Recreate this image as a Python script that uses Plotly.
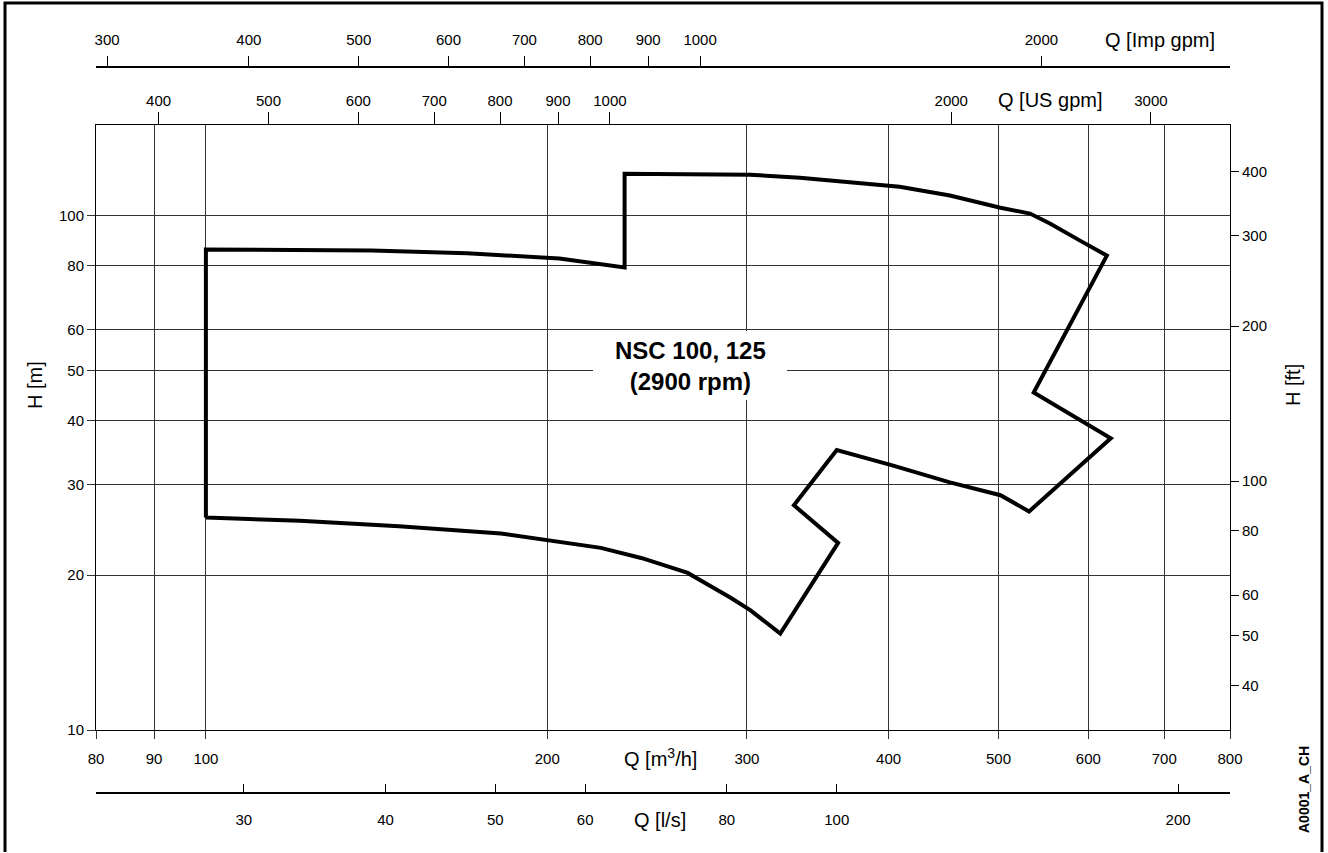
import math
import plotly.graph_objects as go

# Operating envelope of the pump range (Q in m3/h, H in m)
Q_m3h = [100, 100, 140, 170, 205, 234, 234, 278, 302, 334, 378, 409, 453, 502, 533,
         555, 590, 623, 537, 628, 532, 502, 453, 403, 360, 330, 361, 321, 302, 290,
         278, 266, 253, 242, 223, 201, 182, 148, 121, 100]
H_m = [25.9, 85.9, 85.5, 84.5, 82.5, 79.3, 120.6, 120.6, 120.1, 118.5, 115.9, 113.8,
       109.4, 103.6, 100.9, 96.5, 89.4, 83.6, 45.3, 36.9, 26.6, 28.6, 30.3, 32.7, 35.0,
       27.35, 23.1, 15.4, 17.1, 18.1, 19.1, 20.2, 20.95, 21.6, 22.6, 23.4, 24.1, 24.9,
       25.5, 25.9]

# Tick values for each scale
ticks_m3h = [80, 90, 100, 200, 300, 400, 500, 600, 700, 800]
ticks_ls = [30, 40, 50, 60, 80, 100, 200]
ticks_usgpm = [400, 500, 600, 700, 800, 900, 1000, 2000, 3000]
ticks_impgpm = [300, 400, 500, 600, 700, 800, 900, 1000, 2000]
ticks_Hm = [10, 20, 30, 40, 50, 60, 80, 100]
ticks_Hft = [40, 50, 60, 80, 100, 200, 300, 400]

# Unit conversions relative to m3/h and m
US_GPM_PER_M3H = 1000 / 3.785411784 / 60
IMP_GPM_PER_M3H = 1000 / 4.54609 / 60
LS_PER_M3H = 1 / 3.6
FT_PER_M = 1 / 0.3048

Q_MIN, Q_MAX = 80, 800
H_MIN, H_MAX = 10, 150

W, H = 1328, 853
ML, MR, MT, MB = 96, 98, 10, 10
PW, PH = W - ML - MR, H - MT - MB


def px(x):
    return (x - ML) / PW


def py(y):
    return (H - MB - y) / PH


def lrange(lo, hi, f=1.0):
    return [math.log10(lo * f), math.log10(hi * f)]


FONT = "Liberation Sans, Arial, Helvetica, sans-serif"
tickfont = dict(family=FONT, size=15, color="black")
GRID = "#333333"

fig = go.Figure()
fig.add_trace(go.Scatter(
    x=Q_m3h, y=H_m, mode="lines",
    line=dict(color="black", width=4),
    hoverinfo="skip", showlegend=False,
))

common = dict(type="log", automargin=False, tickfont=tickfont, tickmode="array",
              zeroline=False)

fig.update_layout(
    width=W, height=H, template="none",
    paper_bgcolor="white", plot_bgcolor="white",
    margin=dict(l=ML, r=MR, t=MT, b=MB),
    showlegend=False,
    xaxis=dict(
        **common, range=lrange(Q_MIN, Q_MAX), domain=[0, 1],
        tickvals=ticks_m3h, ticktext=[str(v) for v in ticks_m3h],
        showgrid=True, gridcolor=GRID, gridwidth=1,
        showline=True, linecolor="black", linewidth=1, mirror=True,
        ticks="outside", ticklen=8, tickcolor=GRID, anchor="y", side="bottom",
        ticklabelstandoff=7,
    ),
    xaxis2=dict(
        **common, range=lrange(Q_MIN, Q_MAX, US_GPM_PER_M3H),
        tickvals=ticks_usgpm, ticktext=[str(v) for v in ticks_usgpm],
        overlaying="x", anchor="y", side="top", showgrid=False, showline=False,
        ticks="outside", ticklen=12, tickcolor="black",
    ),
    xaxis3=dict(
        **common, range=lrange(Q_MIN, Q_MAX, IMP_GPM_PER_M3H),
        tickvals=ticks_impgpm, ticktext=[str(v) for v in ticks_impgpm],
        overlaying="x", anchor="free", position=py(67), side="top",
        showgrid=False, showline=True, linecolor="black", linewidth=1.5,
        ticks="outside", ticklen=10, tickcolor="black", ticklabelstandoff=5,
    ),
    xaxis4=dict(
        **common, range=lrange(Q_MIN, Q_MAX, LS_PER_M3H),
        tickvals=ticks_ls, ticktext=[str(v) for v in ticks_ls],
        overlaying="x", anchor="free", position=py(793), side="bottom",
        showgrid=False, showline=True, linecolor="black", linewidth=1.5,
        ticks="inside", ticklen=8, tickcolor="black", ticklabelstandoff=13,
    ),
    yaxis=dict(
        **common, range=lrange(H_MIN, H_MAX), domain=[py(730), py(125)],
        tickvals=ticks_Hm, ticktext=[str(v) for v in ticks_Hm],
        showgrid=True, gridcolor=GRID, gridwidth=1,
        showline=True, linecolor="black", linewidth=1, mirror=True,
        ticks="outside", ticklen=8, tickcolor=GRID, anchor="x", side="left",
    ),
    yaxis2=dict(
        **common, range=lrange(H_MIN, H_MAX, FT_PER_M),
        tickvals=ticks_Hft, ticktext=[str(v) for v in ticks_Hft],
        overlaying="y", anchor="x", side="right", showgrid=False, showline=False,
        ticks="outside", ticklen=8, tickcolor="black",
    ),
)

# empty traces so the secondary axes are rendered
for xa, ya in [("x2", "y"), ("x3", "y"), ("x4", "y"), ("x", "y2")]:
    fig.add_trace(go.Scatter(x=[None], y=[None], xaxis=xa, yaxis=ya,
                             showlegend=False, hoverinfo="skip"))

titlefont = dict(family=FONT, size=20, color="black")


def label(x, y, text, font=titlefont, angle=0, xanchor="center"):
    fig.add_annotation(x=px(x), y=py(y), xref="paper", yref="paper", text=text,
                       showarrow=False, font=font, textangle=angle,
                       xanchor=xanchor, yanchor="middle")


label(1160, 40, "Q [Imp gpm]")
label(1050, 100, "Q [US gpm]")
label(660, 757, "Q [m<sup>3</sup>/h]")
label(660, 820, "Q [l/s]")
label(35, 385, "H [m]", angle=-90)
label(1293, 385, "H [ft]", angle=-90)
label(1304, 790, "<b>A0001_A_CH</b>", font=dict(family=FONT, size=14, color="black"),
      angle=-90)

# white label panel over the grid
fig.add_shape(type="rect", xref="paper", yref="paper",
              x0=px(593), x1=px(787), y0=py(400), y1=py(331),
              fillcolor="white", line=dict(width=0), layer="above")
fig.add_annotation(x=px(690), y=py(366), xref="paper", yref="paper",
                   text="<b>NSC 100, 125</b><br><b>(2900 rpm)</b>",
                   showarrow=False, align="center",
                   font=dict(family=FONT, size=24, color="black"))

# outer frame
fig.add_shape(type="path", xref="paper", yref="paper",
              path=f"M {px(5)},{py(852)} L {px(5)},{py(3)} L {px(1322)},{py(3)} L {px(1322)},{py(852)}",
              line=dict(color="black", width=3), layer="above")

fig.write_html("out.html")
